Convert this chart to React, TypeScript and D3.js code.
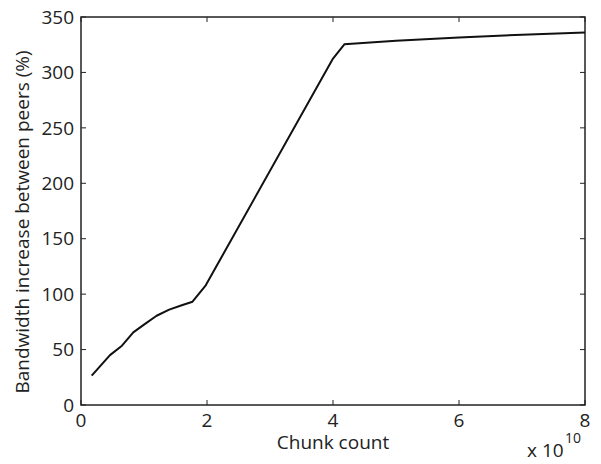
import React from "react";
import * as d3 from "d3";

// chunk count in units of 1e10, bandwidth increase in %
const chunkCount = [0.17, 0.46, 0.65, 0.83, 1.0, 1.2, 1.4, 1.6, 1.77, 1.98, 4.0, 4.18, 5, 6, 7, 8];
const bandwidthIncrease = [26.5, 45, 53.5, 65.5, 72.5, 80.5, 86, 90, 93.2, 108, 312.5, 325.4, 328.5, 331.5, 334, 336];
const xTicks = [0, 2, 4, 6, 8];
const yTicks = [0, 50, 100, 150, 200, 250, 300, 350];

const W = 601;
const H = 464;
const margin = { left: 81, right: 16, top: 17, bottom: 59 };
const font = "'Open Sans', 'Liberation Sans', sans-serif";

export default function App() {
  const x = d3.scaleLinear().domain([0, 8]).range([margin.left, W - margin.right]);
  const y = d3.scaleLinear().domain([0, 350]).range([H - margin.bottom, margin.top]);

  const pts = chunkCount.map((c, i) => [c, bandwidthIncrease[i]] as [number, number]);
  const line = d3
    .line<[number, number]>()
    .x((d) => x(d[0]))
    .y((d) => y(d[1]));

  const x0 = x(0), x1 = x(8), y0 = y(0), y1 = y(350);
  const tick = 5;

  return (
    <svg width={W} height={H} style={{ position: "absolute", left: 0, top: 0, background: "#fff" }}>
      <rect x={0} y={0} width={W} height={H} fill="#fff" />
      {/* ticks, inward on all four sides */}
      <g stroke="#222" strokeWidth={1}>
        {xTicks.map((t) => (
          <g key={"xt" + t}>
            <line x1={x(t)} x2={x(t)} y1={y0} y2={y0 - tick} />
            <line x1={x(t)} x2={x(t)} y1={y1} y2={y1 + tick} />
          </g>
        ))}
        {yTicks.map((t) => (
          <g key={"yt" + t}>
            <line x1={x0} x2={x0 + tick} y1={y(t)} y2={y(t)} />
            <line x1={x1} x2={x1 - tick} y1={y(t)} y2={y(t)} />
          </g>
        ))}
      </g>
      <rect x={x0} y={y1} width={x1 - x0} height={y0 - y1} fill="none" stroke="#222" strokeWidth={1.5} />

      <path d={line(pts) ?? ""} fill="none" stroke="#111" strokeWidth={2} strokeLinejoin="round" />

      <g fontFamily={font} fontSize={19} fill="#222">
        {yTicks.map((t) => (
          <text key={"yl" + t} x={x0 - 7} y={y(t)} dy="0.35em" textAnchor="end">{t}</text>
        ))}
        {xTicks.map((t) => (
          <text key={"xl" + t} x={x(t)} y={y0 + 22} textAnchor="middle">{t}</text>
        ))}
        <text x={(x0 + x1) / 2} y={y0 + 44} textAnchor="middle">Chunk count</text>
        <text x={527} y={457}>x 10</text>
        <text x={565} y={443} fontSize={14}>10</text>
        <text transform={`translate(29,222) rotate(-90)`} textAnchor="middle">
          Bandwidth increase between peers (%)
        </text>
      </g>
    </svg>
  );
}
